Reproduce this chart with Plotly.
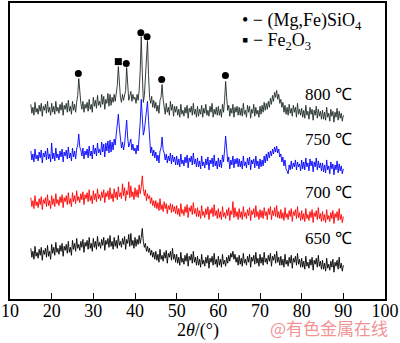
import plotly.graph_objects as go

two_theta = [15 + 0.25 * i for i in range(301)]

i_800 = [196,187,193,185,198,188,192,186,195,189,197,184,194,190,196,187,199,188,193,185,
         197,188,194,186,199,189,193,187,196,190,198,185,195,191,197,188,200,189,194,186,
         199,190,196,188,198,205,222,203,197,191,199,188,196,192,198,189,201,191,196,188,
         203,194,200,192,205,195,199,193,206,196,204,191,201,197,207,194,206,195,203,198,
         206,199,210,215,234,212,203,198,206,200,205,210,233,208,200,204,209,199,206,201,
         203,197,206,200,210,230,264,228,198,205,222,245,260,225,203,197,204,193,200,192,
         198,189,195,187,200,203,216,201,194,186,197,188,193,185,199,190,196,184,194,188,
         194,185,191,183,196,186,190,184,193,187,195,182,192,188,194,185,197,186,191,183,
         194,184,191,186,195,183,192,187,196,185,190,184,194,188,197,183,191,186,193,185,
         194,185,191,183,196,188,200,219,203,190,195,184,192,187,196,183,193,188,194,185,
         193,185,192,184,197,186,190,183,195,188,194,182,191,187,196,184,193,186,190,183,
         194,186,195,188,198,190,197,191,199,193,202,196,205,199,208,203,210,201,206,197,
         201,193,198,188,195,186,193,185,196,187,192,184,195,188,193,183,197,186,191,185,
         192,183,190,182,195,185,189,181,193,186,191,180,190,185,194,182,191,184,189,181,
         190,181,188,180,193,183,187,179,191,184,189,178,188,183,192,180,189,182,187,179,
         185]
i_750 = [149,140,146,138,151,141,145,139,148,142,150,137,147,143,149,140,152,141,146,138,
         157,141,147,139,152,142,146,140,149,143,151,138,148,144,150,141,153,142,147,139,
         152,143,149,141,151,155,166,153,150,144,152,141,149,145,151,142,154,144,149,141,
         155,146,152,144,157,147,151,145,158,148,156,143,157,149,159,147,160,148,158,150,
         161,155,166,174,186,172,160,152,158,150,156,165,180,162,153,157,161,150,156,149,
         152,146,155,149,160,178,201,176,165,170,182,193,199,180,158,147,153,144,150,142,
         148,139,145,137,149,152,163,150,147,140,146,137,144,139,147,136,145,138,143,135,
         144,135,141,133,146,136,140,134,143,137,145,132,142,138,144,135,147,136,141,133,
         142,133,139,131,144,134,138,132,141,135,143,130,140,136,142,133,145,134,139,131,
         142,133,140,132,145,138,150,164,152,138,143,131,140,135,144,132,141,136,142,133,
         141,133,139,131,144,134,138,132,142,135,143,130,140,136,141,132,144,134,139,131,
         141,133,140,134,144,137,146,139,148,142,149,144,151,146,153,148,154,147,151,143,
         146,138,143,134,140,131,129,126,135,130,139,131,137,133,140,130,138,133,136,129,
         140,131,138,130,142,133,137,129,141,134,139,128,138,133,142,130,139,132,137,129,
         137,128,135,127,140,130,134,126,138,131,136,125,135,130,139,127,136,129,134,126,
         131]
i_700 = [102,93,99,91,104,94,98,92,101,95,103,90,100,96,102,93,105,94,99,91,
         104,95,101,93,106,96,100,94,103,97,105,92,102,98,104,95,107,96,101,93,
         107,98,104,96,109,99,103,97,106,100,108,95,105,101,107,98,110,99,104,96,
         109,100,106,98,111,101,105,99,108,102,110,97,107,103,109,100,112,101,106,98,
         111,102,108,100,113,103,107,101,116,104,112,99,109,105,118,102,114,103,108,100,
         112,103,110,102,115,106,113,124,111,104,110,99,106,101,104,96,102,94,99,92,
         99,91,97,89,101,90,95,88,98,91,96,86,94,90,96,87,95,88,93,86,
         94,85,91,83,96,86,90,84,93,87,95,82,92,88,94,85,97,86,91,83,
         92,83,89,81,94,84,88,82,91,85,93,80,90,86,92,83,95,84,89,81,
         91,82,88,80,93,83,87,81,90,84,92,79,89,85,98,82,92,83,88,80,
         91,82,88,80,93,83,87,81,90,84,92,79,89,85,91,82,94,83,88,80,
         90,82,89,81,92,84,88,80,91,85,93,80,89,84,92,83,94,82,88,81,
         90,81,87,79,92,82,86,80,89,83,91,78,88,84,90,81,93,82,87,79,
         89,80,86,78,91,81,85,79,88,82,90,77,87,83,89,80,92,81,86,78,
         88,79,85,77,90,80,84,78,87,81,89,76,86,82,88,79,91,80,85,77,
         83]
i_650 = [51,42,48,40,53,43,47,41,50,44,52,39,49,45,51,42,54,43,48,40,
         55,46,52,44,57,47,51,45,54,48,56,43,53,49,55,46,58,47,52,44,
         59,50,56,48,61,51,55,49,58,52,60,47,57,53,59,50,62,51,56,48,
         61,52,58,50,63,53,57,51,60,54,62,49,59,55,61,52,64,53,58,50,
         62,53,59,51,64,54,58,52,61,55,63,50,60,56,65,53,66,54,59,51,
         62,53,60,55,64,56,62,71,58,52,56,48,53,47,51,44,49,42,47,40,
         48,39,45,37,50,40,44,38,47,41,49,36,46,42,48,39,51,40,45,37,
         45,36,42,34,47,37,41,35,44,38,46,33,43,39,45,36,48,37,42,34,
         43,34,40,32,45,35,39,33,42,36,44,31,41,37,43,34,46,35,40,32,
         43,34,40,32,45,35,39,33,42,36,44,38,46,42,48,40,45,37,42,34,
         44,35,41,33,46,36,40,34,43,37,45,32,42,38,44,35,47,36,41,33,
         45,36,42,34,47,37,41,35,44,38,46,33,43,39,45,36,48,37,42,34,
         43,34,40,32,45,35,39,33,42,36,44,31,41,37,43,34,46,35,40,32,
         41,32,38,30,43,33,37,31,40,34,42,29,39,35,41,32,44,33,38,30,
         39,30,36,28,41,31,35,29,38,32,40,27,37,33,39,30,42,31,36,28,
         34]

series_names = ["650 ℃", "700 ℃", "750 ℃", "800 ℃"]
series_colors = ["#000000", "#ff0000", "#0000ff", "#1f2b28"]
series_data = [i_650, i_700, i_750, i_800]
label_y = [61, 107, 161, 206]

olivine_x = [26.4, 37.9, 41.4, 42.9, 46.4, 61.7]
olivine_y = [227, 237, 268, 264, 221, 225]
hematite_x = [36.0]
hematite_y = [239]

x_ticks = list(range(10, 101, 10))

SERIF = "Liberation Serif, Times New Roman, serif"

fig = go.Figure()
for name, col, ys in zip(series_names, series_colors, series_data):
    fig.add_trace(go.Scatter(x=two_theta, y=ys, mode="lines",
                             line=dict(color=col, width=0.9), name=name))

fig.add_trace(go.Scatter(x=olivine_x, y=olivine_y, mode="markers",
                         marker=dict(symbol="circle", size=7, color="black")))
fig.add_trace(go.Scatter(x=hematite_x, y=hematite_y, mode="markers",
                         marker=dict(symbol="square", size=7, color="black")))

for name, ly in zip(series_names, label_y):
    fig.add_annotation(x=86.4, y=ly, text=name, showarrow=False,
                       font=dict(family=SERIF, size=17, color="black"))

fig.add_annotation(xref="paper", yref="paper", x=(240 - 8) / 378, y=(299 - 20) / 298,
                   xanchor="left", yanchor="middle", showarrow=False,
                   text="• − (Mg,Fe)SiO<sub>4</sub>",
                   font=dict(family=SERIF, size=18, color="black"))
fig.add_annotation(xref="paper", yref="paper", x=(240 - 8) / 378, y=(299 - 40) / 298,
                   xanchor="left", yanchor="middle", showarrow=False,
                   text="▪ − Fe<sub>2</sub>O<sub>3</sub>",
                   font=dict(family=SERIF, size=18, color="black"))

fig.add_annotation(xref="paper", yref="paper", x=(198 - 8) / 378, y=-(331 - 299) / 298,
                   xanchor="center", yanchor="middle", showarrow=False,
                   text="2<i>θ</i>/(°)",
                   font=dict(family=SERIF, size=18, color="black"))
fig.add_annotation(xref="paper", yref="paper", x=(391 - 8) / 378, y=-(328 - 299) / 298,
                   xanchor="right", yanchor="middle", showarrow=False,
                   text="@有色金属在线",
                   font=dict(family="Noto Sans CJK SC", size=17, color="rgba(235,110,110,0.75)"))

fig.update_layout(
    width=400, height=343,
    margin=dict(l=8, r=14, t=1, b=44),
    paper_bgcolor="white", plot_bgcolor="white",
    showlegend=False,
    xaxis=dict(range=[10, 100], tickmode="array", tickvals=x_ticks,
               ticks="inside", ticklen=6, tickwidth=1.2, tickcolor="black",
               ticklabeloverflow="allow", ticklabelstandoff=-5,
               showline=True, linecolor="black", linewidth=1.5, mirror=True,
               showgrid=False, zeroline=False,
               tickfont=dict(family=SERIF, size=18, color="black")),
    yaxis=dict(range=[0, 298], showticklabels=False, ticks="",
               showline=True, linecolor="black", linewidth=1.5, mirror=True,
               showgrid=False, zeroline=False),
)

fig.write_html("out.html")
